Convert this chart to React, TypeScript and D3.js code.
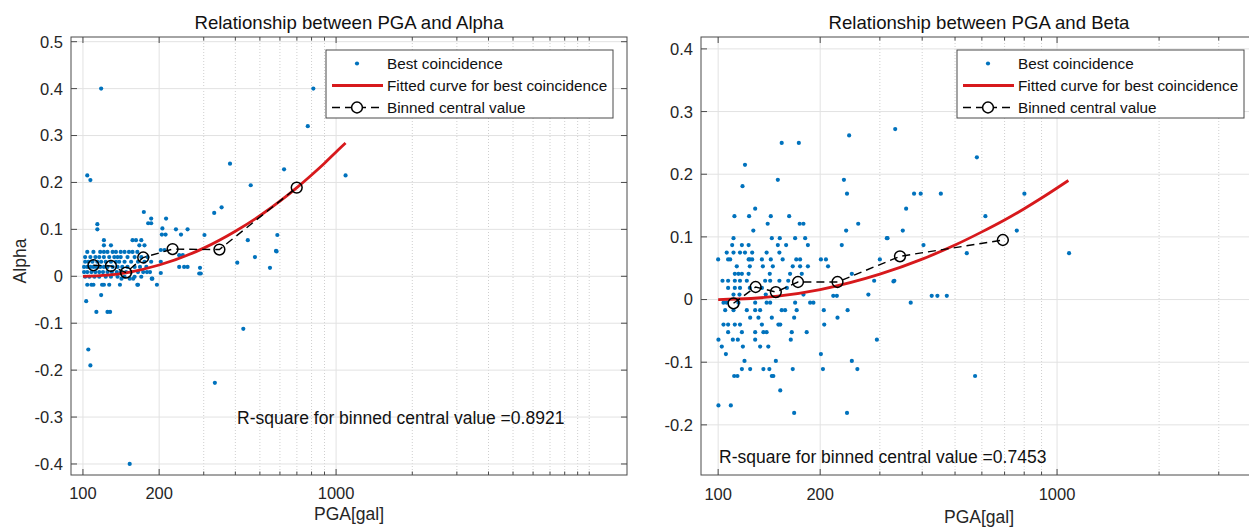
import React from "react";
import * as d3 from "d3";

// ---------- data ----------
// [PGA (gal), Alpha]
const alphaPoints: [number, number][] = [
  [118, 0.4], [104, 0.215], [107, 0.205], [813, 0.4], [773, 0.32], [381, 0.24], [460, 0.194],
  [623, 0.228], [1090, 0.215], [330, 0.135], [353, 0.147], [586, 0.088], [579, 0.054], [448, 0.077],
  [478, 0.041], [407, 0.029], [548, 0.018], [290, 0.018], [292, 0.006], [430, -0.112], [332, -0.227],
  [153, -0.4], [105, -0.156], [107, -0.19], [103, -0.053], [113, -0.076], [125, -0.076], [128, -0.076],
  [118, -0.04], [302, 0.088], [288, 0.006], [174, 0.137], [186, 0.123], [181, 0.113], [186, 0.113],
  [213, 0.123], [114, 0.111], [114, 0.1], [206, 0.102], [233, 0.1], [259, 0.1], [212, 0.089],
  [205, 0.089], [244, 0.089], [121, 0.077], [157, 0.077], [162, 0.077], [170, 0.077], [175, 0.066],
  [167, 0.066], [121, 0.066], [129, 0.066], [203, 0.056], [210, 0.056], [240, 0.045], [248, 0.045],
  [203, 0.031], [240, 0.02], [251, 0.02], [259, 0.02], [203, 0.007], [188, -0.005], [165, -0.018],
  [582, 0.053],
  [104, 0.052], [110, 0.052], [117, 0.052], [121, 0.052], [125, 0.052], [131, 0.052], [135, 0.052],
  [141, 0.052], [146, 0.052], [152, 0.052], [157, 0.052], [164, 0.052],
  [102, 0.041], [107, 0.041], [112, 0.041], [116, 0.041], [121, 0.041], [127, 0.041], [133, 0.041],
  [137, 0.041], [141, 0.041], [150, 0.041], [160, 0.041], [170, 0.041], [180, 0.041],
  [102, 0.031], [105, 0.031], [109, 0.031], [114, 0.031], [118, 0.031], [123, 0.031], [129, 0.031],
  [135, 0.031], [139, 0.031], [146, 0.031], [155, 0.031], [165, 0.031], [175, 0.031], [186, 0.031],
  [101, 0.02], [104, 0.02], [107, 0.02], [110, 0.02], [113, 0.02], [117, 0.02], [121, 0.02],
  [125, 0.02], [131, 0.02], [137, 0.02], [143, 0.02], [150, 0.02], [160, 0.02], [168, 0.02], [178, 0.02],
  [101, 0.009], [104, 0.009], [108, 0.009], [112, 0.009], [116, 0.009], [120, 0.009], [125, 0.009],
  [130, 0.009], [136, 0.009], [141, 0.009], [148, 0.009], [155, 0.009], [165, 0.009], [173, 0.009],
  [179, 0.009], [184, 0.009],
  [102, -0.001], [106, -0.001], [111, -0.001], [116, -0.001], [123, -0.001], [129, -0.001],
  [137, -0.001], [146, -0.001], [160, -0.001], [170, -0.001],
  [142, -0.005], [153, -0.005], [158, -0.005], [187, -0.005],
  [104, -0.018], [108, -0.018], [110, -0.018], [119, -0.018], [121, -0.018], [127, -0.018],
  [140, -0.018], [164, -0.018], [196, -0.018],
];

// [PGA (gal), Beta]
const betaPoints: [number, number][] = [
  [243.5, 0.262], [333, 0.272], [154, 0.25], [173, 0.25], [120, 0.215], [118, 0.181], [150, 0.191],
  [235, 0.191], [240, 0.169], [128.6, 0.145], [111.7, 0.133], [123.4, 0.133], [143, 0.133], [162, 0.133],
  [127, 0.11], [140, 0.121], [174, 0.121], [178.5, 0.121], [238.6, 0.11], [259, 0.121], [111, 0.098],
  [144, 0.098], [152, 0.098], [168.7, 0.098], [180.6, 0.098], [316, 0.098], [110, 0.087], [117.5, 0.087],
  [123, 0.087], [150, 0.087], [158.7, 0.087], [184, 0.087], [231.6, 0.087],
  [106, 0.075], [111, 0.075], [116, 0.075], [120, 0.075], [126, 0.075], [139, 0.075], [151.6, 0.075],
  [100, 0.064], [107, 0.064], [108.5, 0.064], [123, 0.064], [124, 0.064], [126, 0.064], [134.6, 0.064],
  [143, 0.064], [155, 0.064], [170, 0.064], [174.5, 0.064], [201, 0.064], [208, 0.064], [300, 0.064],
  [113.5, 0.053], [124, 0.053], [135.5, 0.053], [145, 0.053], [166, 0.053], [174.5, 0.053], [184, 0.053],
  [211, 0.053],
  [112, 0.041], [114.8, 0.041], [117.5, 0.041], [123, 0.041], [142, 0.041], [163, 0.041], [176.5, 0.041],
  [248, 0.041],
  [103, 0.03], [107, 0.03], [112, 0.03], [116, 0.03], [121.5, 0.03], [137.6, 0.03], [142.4, 0.03],
  [151.6, 0.03], [161, 0.03], [288.6, 0.03], [331, 0.03],
  [107, 0.0186], [112, 0.0186], [116, 0.0186], [124, 0.0186], [134.6, 0.0186], [159.5, 0.0186],
  [111, 0.008], [115.6, 0.008], [138.2, 0.008], [178.5, 0.008], [277.5, 0.008],
  [218.6, 0.006], [224, 0.006],
  [103.7, -0.005], [106, -0.005], [114.8, -0.005], [128.6, -0.005], [139, -0.005], [142.4, -0.005],
  [168.7, -0.005], [186.8, -0.005], [191, -0.005],
  [104.9, -0.017], [111, -0.017], [121.5, -0.017], [128.6, -0.017], [133, -0.017], [154, -0.017],
  [157.6, -0.017], [170.5, -0.017], [205, -0.017], [241, -0.017],
  [124.3, -0.029], [131.5, -0.029], [144, -0.029], [167.6, -0.029], [225, -0.029],
  [103.7, -0.04], [107, -0.04], [112, -0.04], [116, -0.04], [134.6, -0.04], [150.6, -0.04],
  [152.5, -0.04], [205.6, -0.04],
  [107, -0.052], [117.5, -0.052], [128.6, -0.052], [136, -0.052], [139, -0.052], [164.9, -0.052],
  [182.5, -0.052],
  [100.2, -0.064], [110.5, -0.064], [114.3, -0.064], [128.6, -0.064], [163.8, -0.064], [294, -0.064],
  [102.5, -0.075], [118.3, -0.075], [133, -0.075], [140.6, -0.075],
  [105.4, -0.087], [201, -0.087],
  [119.6, -0.098], [148, -0.098], [248, -0.098],
  [117.5, -0.111], [124.3, -0.111], [136, -0.111], [141.6, -0.111], [166, -0.111], [203.8, -0.111],
  [257.5, -0.111],
  [111.5, -0.122], [114, -0.122], [144, -0.122], [145.5, -0.122],
  [152.5, -0.145], [100.2, -0.169], [109, -0.169], [167.6, -0.181], [240, -0.181],
  [580, 0.227], [378.5, 0.169], [396, 0.169], [454, 0.169], [801, 0.169], [358.6, 0.145], [614.5, 0.133],
  [350.6, 0.11], [760.6, 0.11], [314.6, 0.098], [403.5, 0.087], [541.6, 0.074], [1085, 0.074],
  [329, 0.029], [426.7, 0.006], [443.5, 0.006], [472.8, 0.006], [370, -0.005], [573, -0.122],
];

const alphaBinnedPGA = [110, 129, 148, 173, 226, 346, 699];
const alphaBinnedValue = [0.0235, 0.022, 0.008, 0.04, 0.058, 0.057, 0.189];
const betaBinnedPGA = [111, 129, 148, 172, 225, 344, 692];
const betaBinnedValue = [-0.006, 0.02, 0.012, 0.028, 0.028, 0.069, 0.095];

const alphaFitPGA = [100, 125, 150, 200, 300, 400, 500, 600, 700, 800, 900, 1000, 1090];
const alphaFitValue = [0, 0.0025, 0.008, 0.024, 0.06, 0.096, 0.129, 0.16, 0.189, 0.216, 0.241, 0.265, 0.284];
const betaFitPGA = [100, 125, 150, 200, 300, 400, 500, 600, 700, 800, 900, 1000, 1080];
const betaFitValue = [0, 0.0017, 0.0055, 0.016, 0.0405, 0.0645, 0.087, 0.108, 0.127, 0.145, 0.162, 0.178, 0.19];

const xMajorTicks = [100, 200, 1000];
const xMajorLabels = ["100", "200", "1000"];
const xMinorTicks = [300, 400, 500, 600, 700, 800, 900, 2000, 3000, 4000, 5000, 6000, 7000, 8000, 9000, 10000];
const alphaYTicks = [-0.4, -0.3, -0.2, -0.1, 0, 0.1, 0.2, 0.3, 0.4, 0.5];
const alphaYLabels = ["-0.4", "-0.3", "-0.2", "-0.1", "0", "0.1", "0.2", "0.3", "0.4", "0.5"];
const betaYTicks = [-0.2, -0.1, 0, 0.1, 0.2, 0.3, 0.4];
const betaYLabels = ["-0.2", "-0.1", "0", "0.1", "0.2", "0.3", "0.4"];

const legendLabels = ["Best coincidence", "Fitted curve for best coincidence", "Binned central value"];

const FONT = "'Liberation Sans', Arial, Helvetica, sans-serif";
const BLUE = "#0072BD";
const RED = "#d7191c";
const AXIS = "#4a4a4a";
const TEXT = "#262626";

type PanelProps = {
  id: string;
  left: number; right: number; top: number; bottom: number;
  xDomain: [number, number]; yDomain: [number, number];
  yTicks: number[]; yLabels: string[];
  points: [number, number][];
  fitX: number[]; fitY: number[];
  binX: number[]; binY: number[];
  title: string; ylabel?: string;
  rsq: string; rsqX: number; rsqY: number;
  legendX: number; legendW: number;
  xLabelY: number; xTickY: number;
};

function Panel(p: PanelProps) {
  const x = d3.scaleLog().domain(p.xDomain).range([p.left, p.right]);
  const y = d3.scaleLinear().domain(p.yDomain).range([p.bottom, p.top]);
  const inX = (v: number) => v >= p.xDomain[0] && v <= p.xDomain[1];
  const majors = xMajorTicks.filter(inX);
  const minors = xMinorTicks.filter(inX);
  const fitLine = d3.line<number>().x((_, i) => x(p.fitX[i])).y((d) => y(d)).curve(d3.curveMonotoneX);
  const binLine = d3.line<number>().x((_, i) => x(p.binX[i])).y((d) => y(d));
  const W = p.right - p.left;
  const H = p.bottom - p.top;
  const majLen = 6;
  const minLen = 3.5;
  const lx = p.legendX;
  const ly = 50;
  const rows = [63.5, 85.5, 107.5];
  const cx = (p.left + p.right) / 2;
  return (
    <g>
      <defs>
        <clipPath id={p.id}>
          <rect x={p.left} y={p.top} width={W} height={H} />
        </clipPath>
      </defs>
      <rect x={p.left} y={p.top} width={W} height={H} fill="#fff" />
      {/* grid */}
      <g>
        {minors.map((t) => (
          <line key={"mg" + t} x1={x(t)} x2={x(t)} y1={p.top} y2={p.bottom} stroke="#cfcfcf" strokeWidth={1} strokeDasharray="1,2" />
        ))}
        {majors.map((t) => (
          <line key={"Mg" + t} x1={x(t)} x2={x(t)} y1={p.top} y2={p.bottom} stroke="#e2e2e2" strokeWidth={1} />
        ))}
        {p.yTicks.map((t) => (
          <line key={"yg" + t} x1={p.left} x2={p.right} y1={y(t)} y2={y(t)} stroke="#e2e2e2" strokeWidth={1} />
        ))}
      </g>
      {/* data */}
      <g clipPath={`url(#${p.id})`}>
        {p.points.map((d, i) => (
          <circle key={i} cx={x(d[0])} cy={y(d[1])} r={2.1} fill={BLUE} />
        ))}
        <path d={fitLine(p.fitY) || ""} fill="none" stroke={RED} strokeWidth={2.8} />
        <path d={binLine(p.binY) || ""} fill="none" stroke="#000" strokeWidth={1.4} strokeDasharray="8,5" />
        {p.binY.map((v, i) => (
          <circle key={"b" + i} cx={x(p.binX[i])} cy={y(v)} r={5.4} fill="none" stroke="#000" strokeWidth={1.5} />
        ))}
      </g>
      {/* axes box */}
      <rect x={p.left} y={p.top} width={W} height={H} fill="none" stroke={AXIS} strokeWidth={1} />
      {/* ticks */}
      {majors.map((t) => (
        <g key={"mt" + t}>
          <line x1={x(t)} x2={x(t)} y1={p.bottom} y2={p.bottom - majLen} stroke={AXIS} />
          <line x1={x(t)} x2={x(t)} y1={p.top} y2={p.top + majLen} stroke={AXIS} />
        </g>
      ))}
      {minors.map((t) => (
        <g key={"nt" + t}>
          <line x1={x(t)} x2={x(t)} y1={p.bottom} y2={p.bottom - minLen} stroke={AXIS} />
          <line x1={x(t)} x2={x(t)} y1={p.top} y2={p.top + minLen} stroke={AXIS} />
        </g>
      ))}
      {p.yTicks.map((t) => (
        <g key={"yt" + t}>
          <line x1={p.left} x2={p.left + majLen} y1={y(t)} y2={y(t)} stroke={AXIS} />
          <line x1={p.right} x2={p.right - majLen} y1={y(t)} y2={y(t)} stroke={AXIS} />
        </g>
      ))}
      {/* tick labels */}
      {majors.map((t) => (
        <text key={"xl" + t} x={x(t)} y={p.xTickY} textAnchor="middle" fontSize={16.5} fill={TEXT} fontFamily={FONT}>
          {xMajorLabels[xMajorTicks.indexOf(t)]}
        </text>
      ))}
      {p.yTicks.map((t, i) => (
        <text key={"yl" + t} x={p.left - 8} y={y(t)} dy="0.36em" textAnchor="end" fontSize={16.5} fill={TEXT} fontFamily={FONT}>
          {p.yLabels[i]}
        </text>
      ))}
      {/* title and labels */}
      <text x={cx} y={28.5} textAnchor="middle" fontSize={18.6} fill="#111" fontFamily={FONT}>{p.title}</text>
      <text x={cx} y={p.xLabelY} textAnchor="middle" fontSize={17.5} fill={TEXT} fontFamily={FONT}>PGA[gal]</text>
      {p.ylabel && (
        <text transform={`translate(26,261) rotate(-90)`} textAnchor="middle" fontSize={17.5} fill={TEXT} fontFamily={FONT}>
          {p.ylabel}
        </text>
      )}
      <text x={p.rsqX} y={p.rsqY} fontSize={17.5} fill="#111" fontFamily={FONT}>{p.rsq}</text>
      {/* legend */}
      <g>
        <rect x={lx} y={ly} width={p.legendW} height={68} fill="#fff" stroke={AXIS} strokeWidth={1} />
        <circle cx={lx + 31} cy={rows[0]} r={2.1} fill={BLUE} />
        <line x1={lx + 6} x2={lx + 57} y1={rows[1]} y2={rows[1]} stroke={RED} strokeWidth={2.8} />
        <line x1={lx + 6} x2={lx + 57} y1={rows[2]} y2={rows[2]} stroke="#000" strokeWidth={1.4} strokeDasharray="8,5" />
        <circle cx={lx + 31} cy={rows[2]} r={5.4} fill="#fff" stroke="#000" strokeWidth={1.5} />
        {legendLabels.map((s, i) => (
          <text key={s} x={lx + 61} y={rows[i]} dy="0.36em" fontSize={15.3} fill="#111" fontFamily={FONT}>{s}</text>
        ))}
      </g>
    </g>
  );
}

export default function App() {
  return (
    <svg width={1249} height={527} style={{ position: "absolute", left: 0, top: 0, background: "#fff" }}>
      <rect x={0} y={0} width={1249} height={527} fill="#fff" />
      <Panel
        id="clipA" left={71} right={627} top={37} bottom={475}
        xDomain={[89.7, 14100]} yDomain={[-0.4235, 0.51]}
        yTicks={alphaYTicks} yLabels={alphaYLabels}
        points={alphaPoints} fitX={alphaFitPGA} fitY={alphaFitValue}
        binX={alphaBinnedPGA} binY={alphaBinnedValue}
        title="Relationship between PGA and Alpha" ylabel="Alpha"
        rsq="R-square for binned central value =0.8921" rsqX={237} rsqY={424}
        legendX={326} legendW={287} xLabelY={520} xTickY={499}
      />
      <Panel
        id="clipB" left={701} right={1257} top={37} bottom={475}
        xDomain={[89, 3890]} yDomain={[-0.28, 0.419]}
        yTicks={betaYTicks} yLabels={betaYLabels}
        points={betaPoints} fitX={betaFitPGA} fitY={betaFitValue}
        binX={betaBinnedPGA} binY={betaBinnedValue}
        title="Relationship between PGA and Beta"
        rsq="R-square for binned central value =0.7453" rsqX={719} rsqY={463}
        legendX={957} legendW={287} xLabelY={523} xTickY={500}
      />
    </svg>
  );
}
